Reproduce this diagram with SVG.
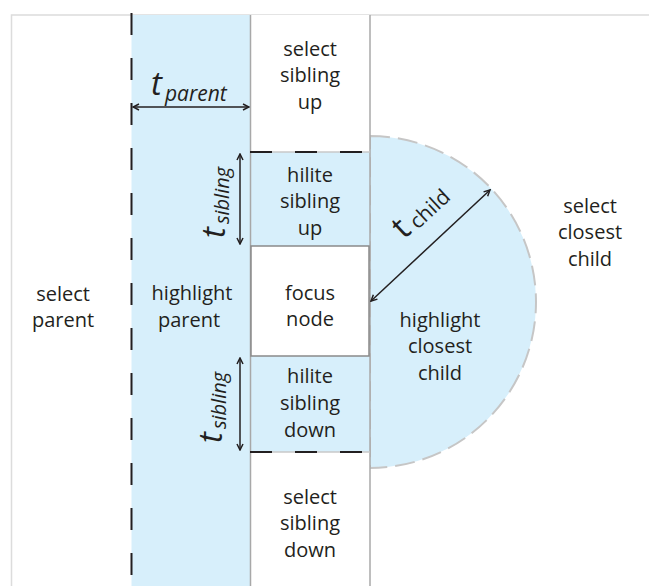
<svg xmlns="http://www.w3.org/2000/svg" width="649" height="586" viewBox="0 0 649 586">
<defs>
<style>
.lbl{font-family:"Open Sans","Liberation Sans",sans-serif;font-size:20px;fill:#231f20;text-anchor:middle}
.t{font-family:"Open Sans","Liberation Sans",sans-serif;font-style:italic;fill:#231f20}
.blue{fill:#d7effb}
.dash{stroke:#231f20;stroke-width:2;stroke-dasharray:22 23;fill:none}
.col{stroke:#a8a8a8;stroke-width:1.5;fill:none}
.arr{stroke:#231f20;stroke-width:1.5;fill:none;marker-start:url(#ah);marker-end:url(#ah)}
</style>
<marker id="ah" viewBox="0 0 8 8" refX="7" refY="4" markerWidth="8" markerHeight="8" markerUnits="userSpaceOnUse" orient="auto-start-reverse">
<path d="M1,1 L7,4 L1,7" fill="none" stroke="#231f20" stroke-width="1.5"/>
</marker>
</defs>
<rect width="649" height="586" fill="#fff"/>

<g id="select-parent">
<path d="M11.5,586 V15 H649" fill="none" stroke="#dcdcdc" stroke-width="1.5"/>
<text class="lbl"><tspan x="63" y="301">select</tspan><tspan x="63" y="327">parent</tspan></text>
</g>

<g id="highlight-parent">
<rect class="blue" x="131.5" y="15" width="118.5" height="571"/>
<line class="dash" x1="131.5" y1="13" x2="131.5" y2="586"/>
<text class="lbl"><tspan x="192" y="300">highlight</tspan><tspan x="189" y="327">parent</tspan></text>
</g>

<g id="select-closest-child">
<text class="lbl"><tspan x="590" y="213">select</tspan><tspan x="590" y="239">closest</tspan><tspan x="590" y="266">child</tspan></text>
</g>

<g id="highlight-closest-child">
<path class="blue" d="M370,136 A166,166 0 0 1 370,468 Z" stroke="#c6c6c6" stroke-width="2" stroke-dasharray="20 8"/>
<text class="lbl"><tspan x="440" y="327">highlight</tspan><tspan x="440" y="353">closest</tspan><tspan x="440" y="380">child</tspan></text>
</g>

<g id="select-sibling-up">
<rect x="250" y="15" width="120" height="137" fill="#fff"/>
<text class="lbl"><tspan x="310" y="56">select</tspan><tspan x="310" y="82">sibling</tspan><tspan x="310" y="109">up</tspan></text>
</g>

<g id="hilite-sibling-up">
<rect class="blue" x="250" y="152" width="120" height="94"/>
<text class="lbl"><tspan x="310" y="182">hilite</tspan><tspan x="310" y="208">sibling</tspan><tspan x="310" y="235">up</tspan></text>
</g>

<g id="hilite-sibling-down">
<rect class="blue" x="250" y="356" width="120" height="96"/>
<text class="lbl"><tspan x="310" y="383">hilite</tspan><tspan x="310" y="410">sibling</tspan><tspan x="310" y="437">down</tspan></text>
</g>

<g id="select-sibling-down">
<rect x="250" y="452" width="120" height="134" fill="#fff"/>
<text class="lbl"><tspan x="310" y="504">select</tspan><tspan x="310" y="530">sibling</tspan><tspan x="310" y="557">down</tspan></text>
</g>

<g id="columns">
<line class="col" x1="250.5" y1="15" x2="250.5" y2="586"/>
<line class="col" x1="370" y1="15" x2="370" y2="586"/>
<line x1="250" y1="152" x2="370" y2="152" stroke="#c8c8c8" stroke-width="1.5"/>
<line x1="250" y1="452" x2="370" y2="452" stroke="#c8c8c8" stroke-width="1.5"/>
<line class="dash" x1="250" y1="152" x2="370" y2="152"/>
<line class="dash" x1="250" y1="452" x2="370" y2="452"/>
</g>

<g id="focus-node">
<rect x="251" y="246" width="118" height="110" fill="#fff" stroke="#8a8a8a" stroke-width="1.5"/>
<text class="lbl"><tspan x="310" y="300">focus</tspan><tspan x="310" y="326">node</tspan></text>
</g>

<g id="connectors">
<line class="arr" x1="133" y1="107" x2="249" y2="107"/>
<line class="arr" x1="240" y1="154" x2="240" y2="244"/>
<line class="arr" x1="240" y1="358" x2="240" y2="450"/>
<line class="arr" x1="371" y1="301" x2="490" y2="190"/>
</g>

<g id="labels">
<text class="t" x="151" y="95" font-size="33">t<tspan font-size="21" dx="3" dy="6">parent</tspan></text>
<text class="t" transform="translate(225,238) rotate(-90)" font-size="33">t<tspan font-size="20" dx="3" dy="4">sibling</tspan></text>
<text class="t" transform="translate(222,443) rotate(-90)" font-size="33">t<tspan font-size="20" dx="3" dy="4">sibling</tspan></text>
<text class="t" transform="translate(404,240) rotate(-43)" font-size="33" style="font-style:normal">t<tspan font-size="21" dx="5" dy="2">child</tspan></text>
</g>
</svg>
